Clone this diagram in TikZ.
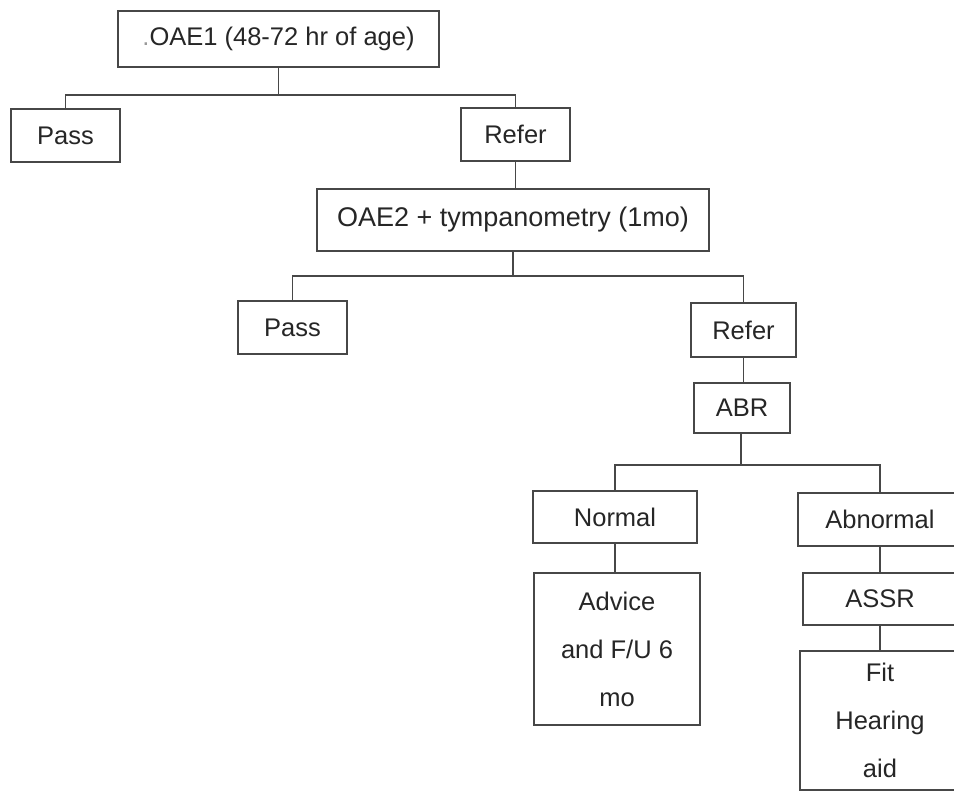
\documentclass[tikz,border=0pt]{standalone}
\usepackage{fontspec}
\setmainfont{Liberation Sans}
\usepackage{xcolor}

\begin{document}
\begin{tikzpicture}[x=1pt,y=-1pt,
    box/.style={draw=black!72,line width=1.9pt,text=black!85,inner sep=0pt,
        font=\fontsize{25.5}{48}\selectfont,align=center},
    link/.style={draw=black!72,line width=1.9pt}]
    \useasboundingbox (0,0) rectangle (954,793);

    % Draw the boxes
    \node[box,minimum width=321,minimum height=56] (oaeone) at (278.5,39) {{\color{black!40}.}OAE1 (48-72 hr of age)};
    \node[box,minimum width=109,minimum height=53] (passone) at (65.5,135.5) {Pass};
    \node[box,minimum width=109,minimum height=53] (referone) at (515.5,134.5) {Refer};
    \node[box,minimum width=392,minimum height=62,font=\fontsize{27}{32}\selectfont] (oaetwo) at (513,220) {OAE2 + tympanometry (1mo)};
    \node[box,minimum width=109,minimum height=53] (passtwo) at (292.5,327.5) {Pass};
    \node[box,minimum width=105,minimum height=54] (refertwo) at (743.5,330) {Refer};
    \node[box,minimum width=96,minimum height=50] (abr) at (742,408) {ABR};
    \node[box,minimum width=164,minimum height=52] (normal) at (615,517) {Normal};
    \node[box,minimum width=164,minimum height=53] (abnormal) at (880,519.5) {Abnormal};
    \node[box,minimum width=166,minimum height=152] (advice) at (617,649) {Advice\\and F/U 6\\mo};
    \node[box,minimum width=154,minimum height=52] (assr) at (880,599) {ASSR};
    \node[box,minimum width=160,minimum height=139] (fit) at (880,720.5) {Fit\\Hearing\\aid};

    % Add the connectors
    \coordinate (jone) at (280,95);
    \coordinate (jtwo) at (513,276);
    \coordinate (jthree) at (741,465);
    \draw[link] (oaeone.south) -- (oaeone.south |- jone);
    \draw[link] (passone.north) |- (jone) -| (referone.north);
    \draw[link] (referone.south) -- (referone.south |- oaetwo.north);
    \draw[link] (oaetwo.south) -- (jtwo);
    \draw[link] (passtwo.north) |- (jtwo) -| (refertwo.north);
    \draw[link] (refertwo.south) -- (refertwo.south |- abr.north);
    \draw[link] (abr.south -| jthree) -- (jthree);
    \draw[link] (normal.north) |- (jthree) -| (abnormal.north);
    \draw[link] (normal.south) -- (normal.south |- advice.north);
    \draw[link] (abnormal.south) -- (abnormal.south |- assr.north);
    \draw[link] (assr.south) -- (assr.south |- fit.north);
\end{tikzpicture}
\end{document}
